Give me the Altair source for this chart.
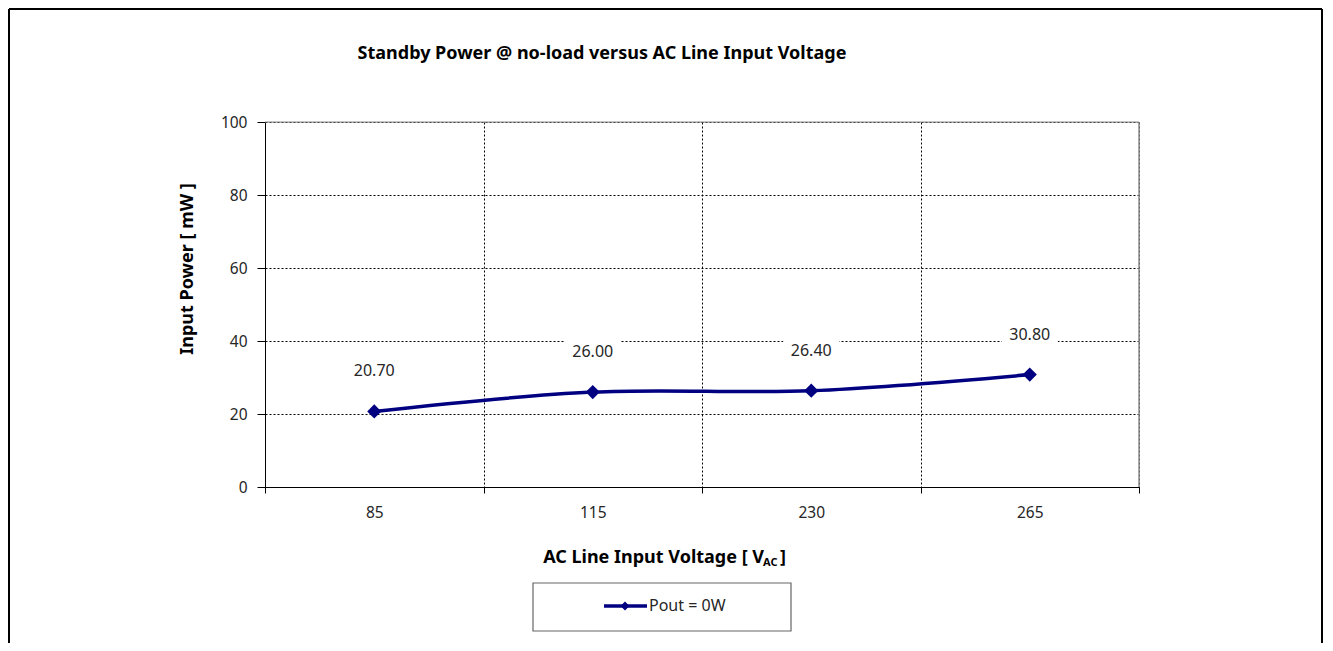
import altair as alt
import pandas as pd

# ---- data ----
categories = ["85", "115", "230", "265"]
power_mw = [20.7, 26.0, 26.4, 30.8]
point_labels = ["20.70", "26.00", "26.40", "30.80"]
y_ticks = [0, 20, 40, 60, 80, 100]
series_name = ["Pout = 0W"]
title_text = ["Standby Power @ no-load versus AC Line Input Voltage"]
y_title = ["Input Power [ mW ]"]
x_title_main = ["AC Line Input Voltage [ V"]
x_title_sub = ["AC"]
x_title_end = ["]"]

df = pd.DataFrame({"v": categories, "p": power_mw, "lab": point_labels})
one = pd.DataFrame({"t": [0]})

W, H = 874, 365
PAD_L, PAD_T = 257, 114
CANVAS_W, CANVAS_H = 1316, 635
NAVY = "#000080"
TITLE_FONT = "Noto Sans"
TICK_FONT = "Noto Sans"
TXT = "#262626"

x_enc = alt.X(
    "v:N",
    sort=categories,
    scale=alt.Scale(type="band", paddingInner=0, paddingOuter=0),
    axis=alt.Axis(
        title=None, labelAngle=0, tickBand="extent", grid=True,
        gridColor="black", gridDash=[2, 2], gridWidth=1,
        tickSize=6, tickColor="black", domainColor="black",
        labelFont=TICK_FONT, labelFontSize=15.5, labelColor=TXT,
        labelPadding=12,
    ),
)
y_enc = alt.Y(
    "p:Q",
    scale=alt.Scale(domain=[0, 100]),
    axis=alt.Axis(
        title=None, values=y_ticks, grid=True, gridColor="black",
        gridDash=[2, 2], gridWidth=1, tickSize=8, tickColor="black",
        domainColor="black", labelFont=TICK_FONT, labelFontSize=15.5,
        labelColor=TXT, labelPadding=10,
    ),
)

base = alt.Chart(df).encode(x=x_enc, y=y_enc)

boxes = base.mark_point(
    shape="M-1,-0.5H1V0.5H-1Z", filled=True, color="white", opacity=1,
    size=56 * 56, strokeWidth=0, yOffset=-40,
)
line = base.mark_line(interpolate="cardinal", color=NAVY, strokeWidth=3.5)
pts = base.mark_point(shape="diamond", filled=True, color=NAVY, opacity=1, size=200)
labels = base.mark_text(
    yOffset=-40, font=TICK_FONT, fontSize=16, color=TXT, baseline="middle"
).encode(text="lab:N")

# plot-area borders (top/right gray)
top_border = alt.Chart(one).mark_rule(color="#8c8c8c", strokeWidth=1).encode(
    x=alt.value(0), x2=alt.value(W), y=alt.value(0))
right_border = alt.Chart(one).mark_rule(color="#8c8c8c", strokeWidth=1.5).encode(
    x=alt.value(W), y=alt.value(0), y2=alt.value(H))

# outer frame (left, top, right)
fl, ft, fr = -PAD_L + 1, -PAD_T + 1, CANVAS_W - PAD_L - 2
fb = CANVAS_H - PAD_T
frame_l = alt.Chart(one).mark_rule(color="black", strokeWidth=2).encode(
    x=alt.value(fl), y=alt.value(ft), y2=alt.value(fb))
frame_t = alt.Chart(one).mark_rule(color="black", strokeWidth=2).encode(
    x=alt.value(fl), x2=alt.value(fr), y=alt.value(ft))
frame_r = alt.Chart(one).mark_rule(color="black", strokeWidth=2).encode(
    x=alt.value(fr), y=alt.value(ft), y2=alt.value(fb))

# titles
title = alt.Chart(pd.DataFrame({"t": title_text})).mark_text(
    font=TITLE_FONT, fontSize=18, fontWeight="bold", color="black",
    align="center", baseline="middle",
).encode(text="t:N", x=alt.value(602 - 265), y=alt.value(54 - 122))

ytitle = alt.Chart(pd.DataFrame({"t": y_title})).mark_text(
    font=TITLE_FONT, fontSize=18, fontWeight="bold", color="black",
    align="center", baseline="middle", angle=270,
).encode(text="t:N", x=alt.value(188 - 265), y=alt.value(269 - 122))

xt_main = alt.Chart(pd.DataFrame({"t": x_title_main})).mark_text(
    font=TITLE_FONT, fontSize=18, fontWeight="bold", color="black",
    align="right", baseline="alphabetic",
).encode(text="t:N", x=alt.value(764 - 265), y=alt.value(563 - 122))
xt_sub = alt.Chart(pd.DataFrame({"t": x_title_sub})).mark_text(
    font=TITLE_FONT, fontSize=11, fontWeight="bold", color="black",
    align="left", baseline="alphabetic",
).encode(text="t:N", x=alt.value(763 - 265), y=alt.value(566 - 122))
xt_end = alt.Chart(pd.DataFrame({"t": x_title_end})).mark_text(
    font=TITLE_FONT, fontSize=18, fontWeight="bold", color="black",
    align="left", baseline="alphabetic",
).encode(text="t:N", x=alt.value(780 - 265), y=alt.value(563 - 122))

# legend box
leg_box = alt.Chart(one).mark_rect(fill="white", stroke="#666", strokeWidth=1.2).encode(
    x=alt.value(533 - 265), x2=alt.value(791 - 265),
    y=alt.value(583 - 122), y2=alt.value(631 - 122))
leg_line = alt.Chart(one).mark_rule(color=NAVY, strokeWidth=3.5).encode(
    x=alt.value(604 - 265), x2=alt.value(647 - 265), y=alt.value(606 - 122))
leg_pt = alt.Chart(one).mark_point(shape="diamond", filled=True, color=NAVY, opacity=1, size=80).encode(
    x=alt.value(625 - 265), y=alt.value(606 - 122))
leg_text = alt.Chart(pd.DataFrame({"t": series_name})).mark_text(
    font=TITLE_FONT, fontSize=16, color=TXT, align="left", baseline="middle",
).encode(text="t:N", x=alt.value(649 - 265), y=alt.value(606 - 122))

chart = alt.layer(
    boxes, line, pts, labels, top_border, right_border,
    frame_l, frame_t, frame_r,
    title, ytitle, xt_main, xt_sub, xt_end,
    leg_box, leg_line, leg_pt, leg_text,
).properties(
    width=W, height=H,
    autosize=alt.AutoSizeParams(type="none"),
    padding={"left": PAD_L, "top": PAD_T, "right": CANVAS_W - PAD_L - W,
             "bottom": CANVAS_H - PAD_T - H},
).configure_view(stroke=None).configure(background="white")

chart.save("out.html", embed_options={"renderer": "svg", "actions": False})
